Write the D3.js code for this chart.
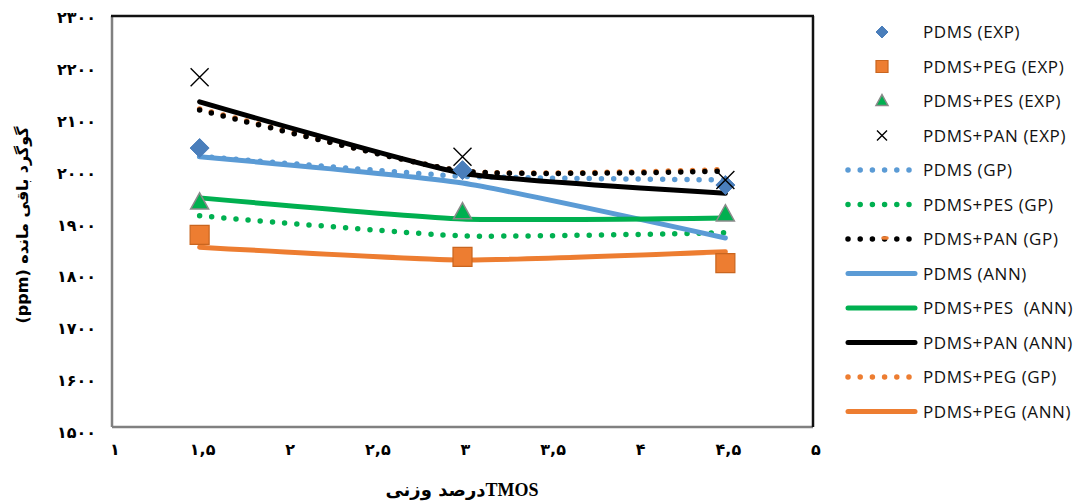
<!DOCTYPE html>
<meta charset="utf-8">
<html>
<script src="https://d3js.org/d3.v7.min.js"></script>
<style>
  body { margin: 0; background: #fff; }
</style>
<div id="chart"></div>

<script>

// x positions of the three membranes' TMOS loadings
var xVals = [1.5, 3, 4.5];

// experimental points
var expPDMS = [2043, 2000, 1971];
var expPEG  = [1874, 1831, 1819];
var expPES  = [1938, 1919, 1915];
var expPAN  = [2181, 2026, 1981];

// GP model
var gpPDMS = [2027, 1988, 1981];
var gpPES  = [1911, 1872, 1878];
var gpPAN  = [2117, 1998, 1998];
var gpPEG  = [2119, 1998, 2001];

// ANN model
var annPDMS = [2026, 1975, 1868];
var annPES  = [1946, 1905, 1907];
var annPAN  = [2133, 1994, 1955];
var annPEG  = [1850, 1825, 1841];

var xTicks = [1, 1.5, 2, 2.5, 3, 3.5, 4, 4.5, 5];
var xTickLabels = ["۱", "۱,۵", "۲", "۲,۵", "۳", "۳,۵", "۴", "۴,۵", "۵"];
var yTicks = [1500, 1600, 1700, 1800, 1900, 2000, 2100, 2200, 2300];
var yTickLabels = ["۱۵۰۰", "۱۶۰۰", "۱۷۰۰", "۱۸۰۰", "۱۹۰۰", "۲۰۰۰", "۲۱۰۰", "۲۲۰۰", "۲۳۰۰"];

var width = 1080,
    height = 501;

var svg = d3.select("#chart")
  .append("svg")
    .attr("width", width)
    .attr("height", height);

var x = d3.scaleLinear().domain([1, 5]).range([112, 813]);
var y = d3.scaleLinear().domain([1500, 2300]).range([427, 16]);

var blue = "#5B9BD5", green = "#00B050", orange = "#ED7D31", black = "#000";

// plot frame: grey left/bottom, black top/right
var x0 = x.range()[0], x1 = x.range()[1], y0 = y.range()[0], y1 = y.range()[1];
svg.append("line").attr("x1", x0).attr("x2", x0).attr("y1", y1).attr("y2", y0)
  .attr("stroke", "#808080").attr("stroke-width", 2.5);
svg.append("line").attr("x1", x0).attr("x2", x1).attr("y1", y0).attr("y2", y0)
  .attr("stroke", "#808080").attr("stroke-width", 2.5);
svg.append("line").attr("x1", x0 - 1).attr("x2", x1 + 1).attr("y1", y1).attr("y2", y1)
  .attr("stroke", "#111").attr("stroke-width", 2.5);
svg.append("line").attr("x1", x1).attr("x2", x1).attr("y1", y1).attr("y2", y0)
  .attr("stroke", "#111").attr("stroke-width", 2.5);

// tick labels
svg.selectAll("text.ytick")
  .data(yTicks)
  .enter().append("text")
    .attr("class", "ytick")
    .attr("x", 96)
    .attr("y", function(d) { return y(d) + 7 + (2300 - d) / 800 * 4; })
    .attr("text-anchor", "end")
    .style("font-family", "DejaVu Sans")
    .style("font-weight", "bold")
    .style("font-size", "16px")
    .style("letter-spacing", "2.5px")
    .text(function(d, i) { return yTickLabels[i]; });

svg.selectAll("text.xtick")
  .data(xTicks)
  .enter().append("text")
    .attr("class", "xtick")
    .attr("x", function(d) { return x(d) + 3; })
    .attr("y", 455)
    .attr("text-anchor", "middle")
    .style("font-family", "DejaVu Sans")
    .style("font-weight", "bold")
    .style("font-size", "16px")
    .text(function(d, i) { return xTickLabels[i]; });

// axis titles
svg.append("text")
  .attr("transform", "translate(28,225) rotate(-90)")
  .attr("text-anchor", "middle")
  .style("font-family", "DejaVu Sans")
  .style("font-weight", "bold")
  .style("font-size", "16px")
  .text("(ppm) گوگرد باقی مانده");

var xt = svg.append("text")
  .attr("x", 462)
  .attr("y", 496)
  .attr("text-anchor", "middle")
  .style("font-weight", "bold");
xt.append("tspan").style("font-family", "DejaVu Sans").style("font-size", "18px").text("درصد وزنی");
xt.append("tspan").style("font-family", "Liberation Serif").style("font-size", "18px").text("TMOS");

// lines (mildly smoothed)
var line = d3.line()
  .x(function(d, i) { return x(xVals[i]); })
  .y(function(d) { return y(d); })
  .curve(d3.curveCardinal.tension(0.5));

function dotted(vals, color) {
  svg.append("path")
    .attr("d", line(vals))
    .attr("fill", "none")
    .attr("stroke", color)
    .attr("stroke-width", 5.5)
    .attr("stroke-linecap", "round")
    .attr("stroke-dasharray", "0 12.2");
}

function solid(vals, color) {
  svg.append("path")
    .attr("d", line(vals))
    .attr("fill", "none")
    .attr("stroke", color)
    .attr("stroke-width", 5)
    .attr("stroke-linecap", "round");
}

dotted(gpPEG, orange);
dotted(gpPDMS, blue);
dotted(gpPES, green);
dotted(gpPAN, black);
solid(annPDMS, blue);
solid(annPES, green);
solid(annPAN, black);
solid(annPEG, orange);

// marker shapes, s = full width
function markerPath(kind, s) {
  var h = s / 2, p = d3.path();
  if (kind == "diamond") {
    p.moveTo(0, -h); p.lineTo(h, 0); p.lineTo(0, h); p.lineTo(-h, 0); p.closePath();
  } else if (kind == "square") {
    p.rect(-h, -h, s, s);
  } else if (kind == "triangle") {
    var th = s * 0.9;
    p.moveTo(0, -th / 2 - 1); p.lineTo(h, th / 2 - 1); p.lineTo(-h, th / 2 - 1); p.closePath();
  } else {
    p.moveTo(-h, -h); p.lineTo(h, h); p.moveTo(h, -h); p.lineTo(-h, h);
  }
  return p.toString();
}

var markerStyle = {
  diamond:  { fill: "#4A7EBB", stroke: "#4A7EBB", sw: 1 },
  square:   { fill: orange, stroke: "#C9651F", sw: 1.2 },
  triangle: { fill: green, stroke: "#8A8A8A", sw: 1.5 },
  cross:    { fill: "none", stroke: black, sw: 1.4 }
};

function markers(vals, kind, s) {
  var st = markerStyle[kind];
  svg.selectAll(null)
    .data(vals)
    .enter().append("path")
      .attr("transform", function(d, i) { return "translate(" + x(xVals[i]) + "," + y(d) + ")"; })
      .attr("d", markerPath(kind, s))
      .attr("fill", st.fill)
      .attr("stroke", st.stroke)
      .attr("stroke-width", st.sw);
}

markers(expPDMS, "diamond", 19);
markers(expPEG, "square", 19);
markers(expPES, "triangle", 18);
markers(expPAN, "cross", 18);

// legend
var legendItems = [
  { label: "PDMS (EXP)", type: "diamond" },
  { label: "PDMS+PEG (EXP)", type: "square" },
  { label: "PDMS+PES (EXP)", type: "triangle" },
  { label: "PDMS+PAN (EXP)", type: "cross" },
  { label: "PDMS (GP)", type: "dotted", color: blue },
  { label: "PDMS+PES (GP)", type: "dotted", color: green },
  { label: "PDMS+PAN (GP)", type: "dotted", color: black },
  { label: "PDMS (ANN)", type: "solid", color: blue },
  { label: "PDMS+PES  (ANN)", type: "solid", color: green },
  { label: "PDMS+PAN (ANN)", type: "solid", color: black },
  { label: "PDMS+PEG (GP)", type: "dotted", color: orange },
  { label: "PDMS+PEG (ANN)", type: "solid", color: orange }
];

var legend = svg.selectAll(".legend")
    .data(legendItems)
    .enter().append("g")
    .attr("class", "legend")
    .attr("transform", function(d, i) { return "translate(0," + (32 + i * 34.5) + ")"; });

legend.each(function(d) {
  var g = d3.select(this);
  if (d.type == "dotted") {
    g.append("line").attr("x1", 848).attr("x2", 910).attr("y1", 0).attr("y2", 0)
      .attr("stroke", d.color).attr("stroke-width", 5.5)
      .attr("stroke-linecap", "round").attr("stroke-dasharray", "0 12.2");
    if (d.label == "PDMS+PAN (GP)") {
      // the PEG (GP) dot peeking through
      g.append("line").attr("x1", 883).attr("x2", 887).attr("y1", -1).attr("y2", -1)
        .attr("stroke", orange).attr("stroke-width", 3.5).attr("stroke-linecap", "round");
    }
  } else if (d.type == "solid") {
    g.append("line").attr("x1", 848).attr("x2", 915).attr("y1", 0).attr("y2", 0)
      .attr("stroke", d.color).attr("stroke-width", 5).attr("stroke-linecap", "round");
  } else {
    var st = markerStyle[d.type], s = { diamond: 12, square: 12, triangle: 12, cross: 10 }[d.type];
    g.append("path")
      .attr("transform", "translate(882,0)")
      .attr("d", markerPath(d.type, s))
      .attr("fill", st.fill).attr("stroke", st.stroke).attr("stroke-width", st.sw);
  }
  g.append("text")
    .attr("x", 923)
    .attr("y", 6)
    .attr("xml:space", "preserve")
    .style("white-space", "pre")
    .style("font-family", "Open Sans")
    .style("font-size", "17px")
    .style("letter-spacing", "0.6px")
    .style("fill", "#111")
    .text(d.label);
});

</script>
</html>
